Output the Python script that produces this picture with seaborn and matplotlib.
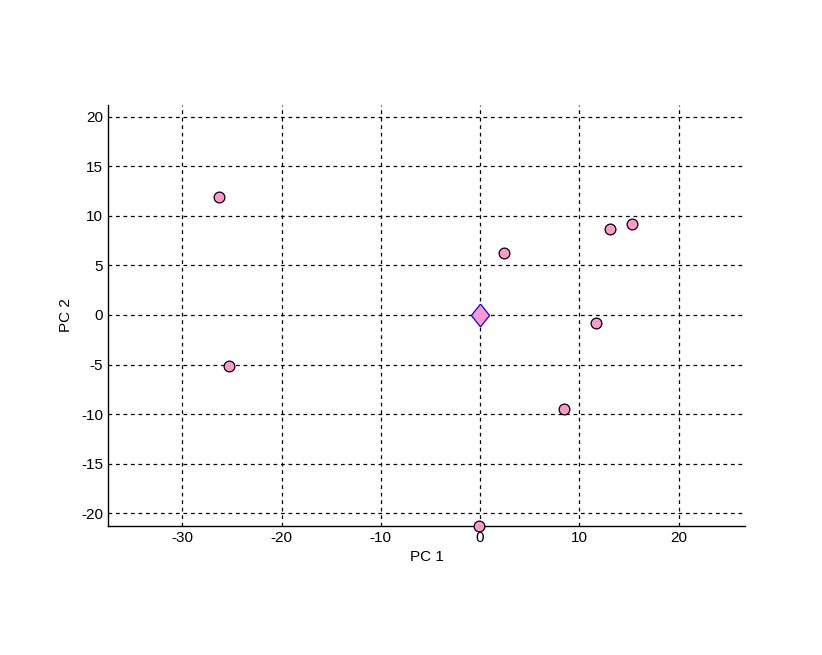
import seaborn as sns
import matplotlib.pyplot as plt
import pandas as pd

# scores on the first two principal components
pc1 = [-26.3, -25.3, 2.4, 13.1, 15.3, 11.7, 8.5, -0.1]
pc2 = [11.9, -5.2, 6.3, 8.7, 9.2, -0.8, -9.5, -21.3]
center_pc1 = [0.0]
center_pc2 = [0.0]

xticks = [-30, -20, -10, 0, 10, 20]
yticks = [-20, -15, -10, -5, 0, 5, 10, 15, 20]

sns.set_style('white')
plt.rcParams['font.family'] = ['Liberation Sans', 'DejaVu Sans']
plt.rcParams['font.size'] = 11
plt.rcParams['axes.unicode_minus'] = False
plt.rcParams['text.color'] = 'black'
plt.rcParams['axes.labelcolor'] = 'black'

df = pd.DataFrame({'PC 1': pc1, 'PC 2': pc2})
center = pd.DataFrame({'PC 1': center_pc1, 'PC 2': center_pc2})

# matlab-like diamond, a bit taller than wide
diamond = [(0, 1), (0.8, 0), (0, -1), (-0.8, 0), (0, 1)]

fig = plt.figure(figsize=(8.22, 6.55), dpi=100)
ax = fig.add_axes([0.1314, 0.197, 0.7749, 0.6427])

ax.grid(True, color='black', linestyle=(0, (3, 3)), linewidth=0.9)
ax.set_axisbelow(True)

sns.scatterplot(data=df, x='PC 1', y='PC 2', ax=ax, marker='o', s=60,
                color='#ff99cc', edgecolor='black', linewidth=0.9,
                clip_on=False, zorder=3)
sns.scatterplot(data=center, x='PC 1', y='PC 2', ax=ax, marker=diamond, s=270,
                color='#ff99cc', edgecolor='blue', linewidth=0.9,
                clip_on=False, zorder=4)

ax.set_xlim(-37.5, 26.7)
ax.set_ylim(-21.3, 21.2)
ax.set_xticks(xticks)
ax.set_yticks(yticks)
ax.tick_params(direction='in', length=5, width=0.8, colors='black', labelsize=11)

for side in ['top', 'right']:
    ax.spines[side].set_visible(False)
for side in ['left', 'bottom']:
    ax.spines[side].set_color('black')
    ax.spines[side].set_linewidth(1.0)

ax.set_xlabel('PC 1', fontsize=11)
ax.set_ylabel('PC 2', fontsize=11, labelpad=6)

plt.savefig('out.png', dpi=100)
